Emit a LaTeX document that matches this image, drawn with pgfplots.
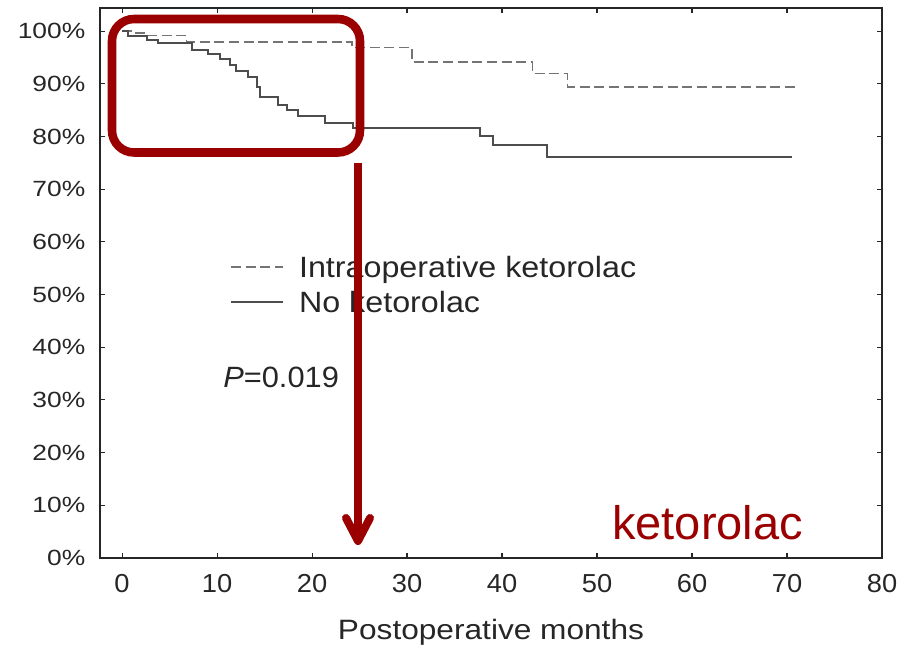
\documentclass[border=0pt]{standalone}
\usepackage{pgfplots}
\pgfplotsset{compat=1.18}
\usepackage{fontspec}
\setmainfont{Liberation Sans}
\definecolor{ann}{HTML}{9A0000}
\definecolor{txt}{HTML}{262626}
\definecolor{solidc}{HTML}{4D4D4D}
\definecolor{dashc}{HTML}{747474}
\newcommand{\sx}[2]{\scalebox{#1}[1]{#2}}
\begin{document}
\begin{tikzpicture}[x=0.75pt,y=-0.75pt]
\useasboundingbox (0,0) rectangle (912,646);
\begin{axis}[
  at={(75pt,-418.5pt)}, anchor=south west,
  scale only axis, width=586.5pt, height=412.5pt,
  xmin=-2.32, xmax=80, ymin=0, ymax=104.4,
  xtick={0,10,...,80}, ytick={0,10,...,100},
  /pgf/number format/assume math mode=true,
  tick align=inside, major tick length=3.75pt,
  axis line style={draw=txt, line width=1.1pt},
  every tick/.style={draw=txt, line width=0.8pt},
  xticklabel={\sx{1.05}{\pgfmathprintnumber{\tick}}},
  yticklabel={\sx{1.2}{\pgfmathprintnumber{\tick}\%}},
  x tick label style={font=\fontsize{19.5}{21}\selectfont, text=txt, yshift=-8.5pt},
  y tick label style={font=\fontsize{16.5}{18}\selectfont, text=txt, xshift=-7.5pt},
  xlabel={\sx{1.13}{Postoperative months}},
  xlabel style={font=\fontsize{21}{24}\selectfont, text=txt, at={(axis description cs:0.5,-0.149)}, anchor=base},
  legend image code/.code={\draw[#1] (0pt,0.5pt) -- (39pt,0.5pt);},
  legend style={at={(axis cs:11.37,57.3)}, anchor=north west, draw=none, fill=none,
    inner sep=0pt, outer sep=0pt, row sep=9pt, column sep=11.25pt,
    font=\fontsize{22}{26}\selectfont, text=txt,
    nodes={inner sep=0pt, outer sep=0pt}},
  legend cell align=left,
]
\addplot[const plot, dashc, line width=1.2pt, dash pattern=on 7.5pt off 3.5pt] coordinates {
  (0,100) (1.5,99.6) (2.4,99.2) (6.8,98.0) (24.2,96.9) (30.5,94.1) (43.2,92.0) (46.9,89.4) (70.8,89.4)
};
\addlegendentry{\sx{1.1}{Intraoperative ketorolac}}
\addplot[const plot, solidc, line width=1.5pt] coordinates {
  (0,100) (0.6,99.1) (2.6,98.4) (3.8,97.8) (7.4,96.4) (9.1,95.6) (10.3,94.7) (11.4,93.5) (12.0,92.4)
  (13.3,91.3) (14.2,89.4) (14.5,87.5) (16.4,86.0) (17.4,85.0) (18.5,83.9) (21.4,82.5) (24.3,81.6)
  (37.7,80.1) (39.1,78.4) (44.7,76.1) (70.5,76.1)
};
\addlegendentry{\sx{1.1}{No ketorolac}}
\node[anchor=base west, font=\fontsize{22}{26}\selectfont, text=txt, inner sep=0pt] at (axis cs:10.63,32.3) {\sx{1.05}{\textit{P}=0.019}};
\end{axis}
\draw[ann, line width=6.4pt, rounded corners=16.5pt] (112,19) rectangle (360,152.5);
\draw[ann, line width=6pt] (358,163) -- (358,540);
\draw[ann, line width=6pt, line cap=round, line join=round] (346,518) -- (358,541) -- (370,518);
\node[anchor=base west, text=ann, font=\fontsize{35.25}{40}\selectfont, inner sep=0pt] at (612,539) {ketorolac};
\end{tikzpicture}
\end{document}
